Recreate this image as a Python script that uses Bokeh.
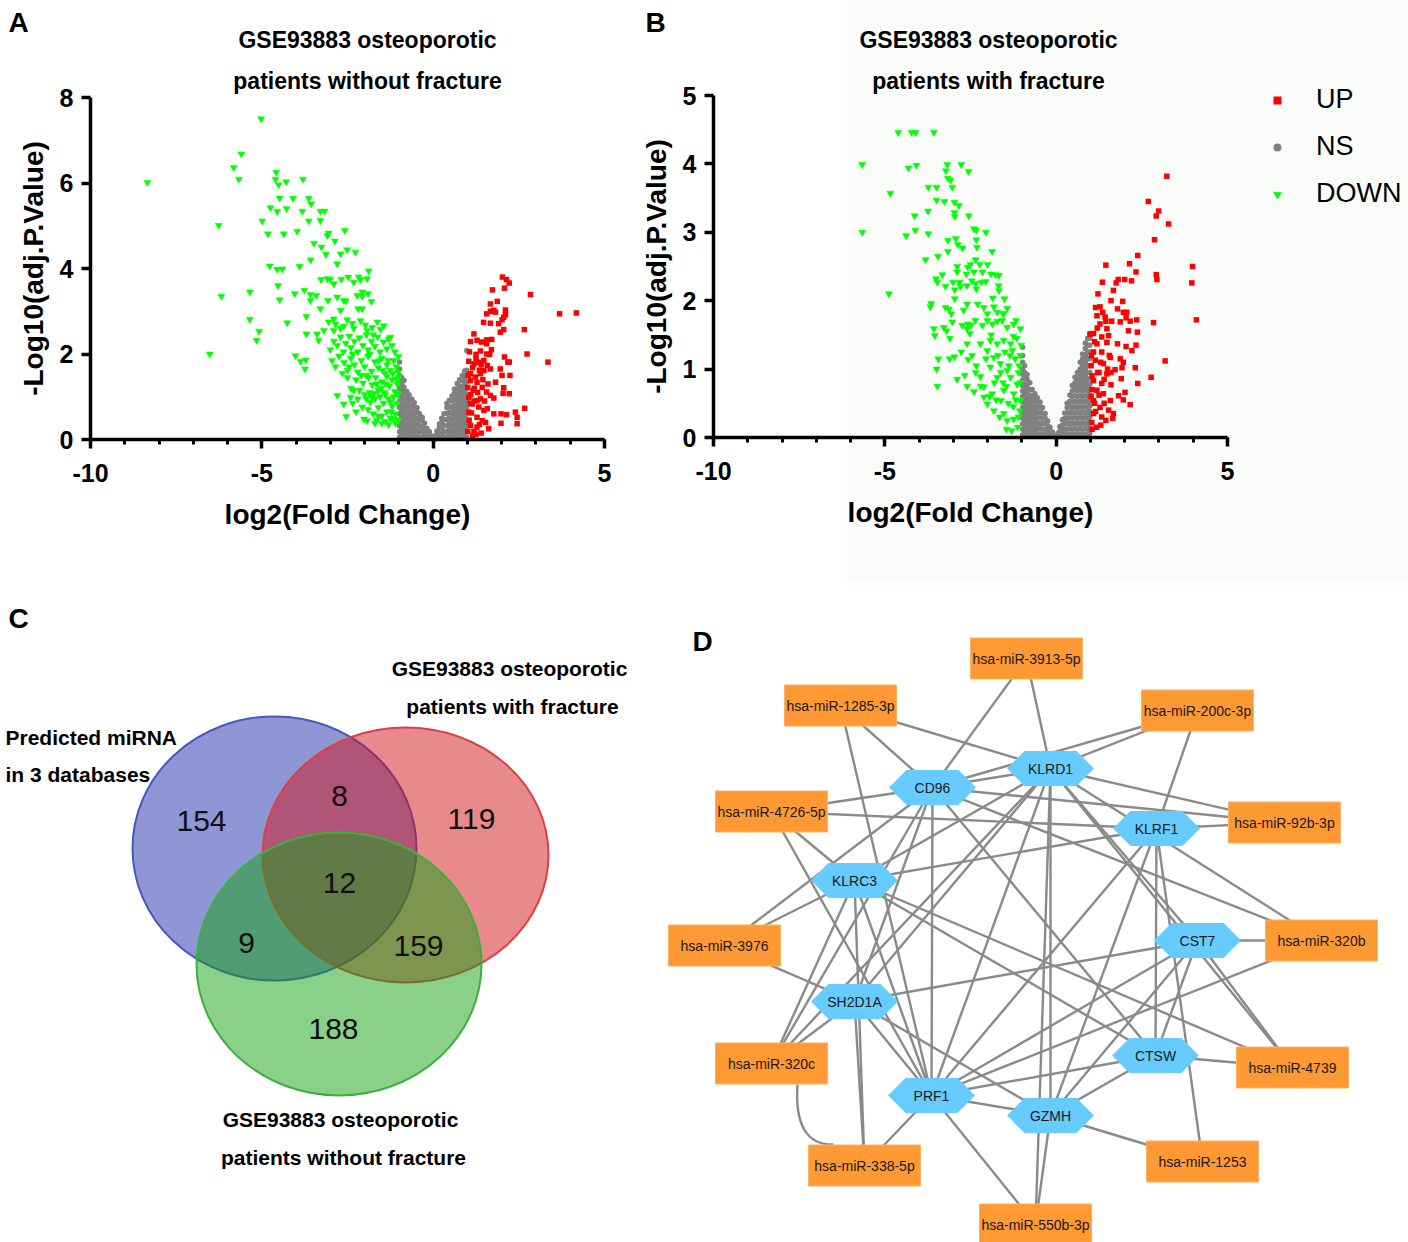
from bokeh.plotting import figure
from bokeh.models import Range1d, FixedTicker, Legend, LegendItem, BoxAnnotation
from bokeh.layouts import column, row
from bokeh.embed import file_html
from bokeh.resources import INLINE
from bokeh.core.properties import value

FONT = "Liberation Sans"

# ---------------- Panel A data (log2FC, -log10 adj.P) ----------------
A_DOWN = [
    (-8.34, 6.01), (-5.02, 7.50), (-5.60, 6.68), (-5.82, 6.36), (-5.67, 6.09), (-4.58, 6.25), (-4.60, 6.09), (-4.51, 5.96),
    (-4.29, 6.03), (-3.80, 6.09), (-4.48, 5.65), (-4.09, 5.64), (-3.63, 5.64), (-3.56, 5.51), (-4.75, 5.42), (-4.55, 5.33),
    (-4.28, 5.40), (-3.82, 5.34), (-3.29, 5.34), (-3.17, 5.34), (-4.99, 5.11), (-3.63, 5.11), (-3.29, 5.12), (-6.26, 5.01),
    (-4.82, 4.81), (-4.36, 4.81), (-3.97, 4.87), (-3.05, 4.83), (-3.09, 4.77), (-2.58, 4.89), (-3.48, 4.59), (-3.26, 4.50),
    (-2.87, 4.64), (-3.13, 4.33), (-2.70, 4.34), (-2.51, 4.44), (-2.27, 4.38), (-3.58, 4.20), (-2.80, 4.11), (-4.77, 4.06),
    (-4.55, 3.98), (-4.40, 3.99), (-3.90, 4.05), (-1.88, 3.94), (-3.27, 3.74), (-3.09, 3.76), (-3.00, 3.75), (-2.90, 3.64),
    (-2.68, 3.75), (-2.48, 3.80), (-2.32, 3.68), (-2.17, 3.80), (-2.12, 3.74), (-1.93, 3.76), (-4.53, 3.60), (-6.18, 3.35),
    (-5.35, 3.45), (-4.48, 3.27), (-4.04, 3.41), (-3.76, 3.49), (-3.58, 3.39), (-3.41, 3.37), (-3.58, 3.25), (-3.29, 3.06),
    (-3.07, 3.25), (-2.80, 3.33), (-2.61, 3.25), (-2.55, 3.24), (-2.70, 3.02), (-2.22, 3.37), (-2.07, 3.45), (-2.07, 3.35),
    (-1.90, 3.41), (-1.80, 3.23), (-2.19, 3.06), (-2.07, 3.06), (-5.35, 2.81), (-4.26, 2.73), (-3.70, 2.88), (-5.08, 2.53),
    (-5.15, 2.32), (-6.52, 2.00), (-4.02, 1.96), (-3.87, 1.83), (-3.72, 1.86), (-3.74, 1.65), (-3.70, 2.47), (-3.39, 2.47),
    (-3.34, 2.32), (-3.19, 2.55), (-3.05, 2.75), (-2.90, 2.82), (-2.85, 2.70), (-2.61, 2.65), (-2.51, 2.80), (-2.36, 2.72),
    (-2.32, 2.60), (-2.12, 2.78), (-1.98, 2.68), (-1.93, 2.55), (-1.78, 2.62), (-1.63, 2.75), (-1.54, 2.58), (-1.44, 2.66),
    (-3.00, 2.10), (-2.90, 2.30), (-2.80, 2.20), (-2.70, 2.40), (-2.62, 2.05), (-2.55, 2.25), (-2.45, 2.42), (-2.40, 2.15),
    (-2.30, 2.30), (-2.20, 2.05), (-2.15, 2.38), (-2.05, 2.20), (-1.95, 2.45), (-1.90, 2.10), (-1.80, 2.30), (-1.70, 2.18),
    (-1.62, 2.40), (-1.55, 2.05), (-1.45, 2.28), (-1.35, 2.12), (-1.30, 2.35), (-1.25, 2.39), (-1.01, 1.94), (-2.95, 1.85),
    (-2.85, 1.70), (-2.75, 1.95), (-2.60, 1.80), (-2.50, 1.62), (-2.40, 1.90), (-2.30, 1.75), (-2.20, 1.58), (-2.10, 1.85),
    (-2.00, 1.70), (-1.90, 1.95), (-1.80, 1.60), (-1.70, 1.82), (-1.60, 1.68), (-1.50, 1.90), (-1.40, 1.55), (-1.35, 1.75),
    (-1.25, 1.62), (-1.15, 1.85), (-1.08, 1.70), (-1.02, 1.58), (-2.40, 1.20), (-2.25, 1.40), (-2.15, 1.15), (-2.05, 1.32),
    (-1.95, 1.50), (-1.85, 1.10), (-1.78, 1.28), (-1.68, 1.45), (-1.60, 1.15), (-1.50, 1.35), (-1.42, 1.10), (-1.35, 1.48),
    (-1.28, 1.25), (-1.20, 1.40), (-1.12, 1.12), (-1.05, 1.30), (-1.00, 1.45), (-2.50, 1.45), (-2.80, 1.03), (-2.61, 0.83),
    (-2.54, 0.54), (-2.41, 0.99), (-2.32, 1.15), (-2.07, 0.76), (-2.02, 0.48), (-1.93, 0.44), (-1.83, 0.87), (-1.75, 0.60),
    (-1.70, 0.95), (-1.65, 0.45), (-1.60, 0.75), (-1.55, 1.00), (-1.50, 0.55), (-1.45, 0.85), (-1.40, 0.42), (-1.35, 0.65),
    (-1.30, 0.95), (-1.25, 0.50), (-1.20, 0.78), (-1.15, 1.00), (-1.10, 0.60), (-1.05, 0.85), (-1.02, 0.45), (-1.10, 0.38),
    (-1.25, 0.88), (-1.40, 1.05), (-1.60, 0.55), (-1.80, 1.00), (-1.90, 0.70), (-1.30, 0.35), (-1.50, 0.38), (-1.70, 0.38),
    (-1.95, 0.95), (-2.20, 0.95), (-2.25, 0.65), (-1.03, 1.05), (-1.08, 1.42), (-1.12, 2.05), (-1.18, 1.55), (-1.22, 0.65),
    (-1.32, 1.85), (-1.38, 1.30), (-1.48, 1.62), (-1.52, 1.20), (-1.58, 1.85), (-1.65, 1.30), (-1.72, 1.08), (-1.75, 2.45),
    (-1.85, 2.00), (-1.88, 1.45), (-2.00, 1.05), (-2.10, 1.50), (-2.35, 2.00), (-2.45, 1.70), (-2.65, 1.55), (-2.70, 2.60),
    (-2.90, 2.55), (-2.35, 0.85), (-1.15, 0.48), (-1.20, 2.20), (-1.05, 1.10),
]
A_UP = [
    (2.02, 3.80), (2.14, 3.74), (2.22, 3.66), (1.73, 3.50), (2.08, 3.54), (2.84, 3.39), (1.67, 3.17), (1.87, 3.23),
    (1.56, 2.94), (1.67, 3.00), (1.77, 3.02), (1.82, 2.98), (2.11, 3.03), (2.11, 2.92), (1.47, 2.74), (1.67, 2.72),
    (1.91, 2.71), (2.01, 2.80), (2.06, 2.86), (1.96, 2.51), (2.06, 2.57), (3.69, 2.94), (4.18, 2.96), (2.66, 2.57),
    (1.19, 2.47), (1.09, 2.29), (1.28, 2.32), (1.41, 2.28), (1.56, 2.33), (1.71, 2.34), (1.56, 2.24), (1.38, 2.07),
    (1.25, 1.99), (1.56, 2.00), (1.65, 1.99), (1.70, 2.10), (2.74, 2.00), (3.35, 1.81), (2.08, 1.93), (2.18, 1.81),
    (2.22, 1.81), (1.04, 1.83), (1.19, 1.77), (1.33, 1.81), (1.48, 1.85), (1.58, 1.73), (1.67, 1.65), (1.48, 1.61),
    (1.96, 1.65), (2.01, 1.50), (2.24, 1.50), (1.09, 1.54), (1.23, 1.46), (1.38, 1.54), (1.09, 1.38), (1.28, 1.34),
    (1.43, 1.22), (1.01, 1.22), (1.17, 1.15), (1.82, 1.34), (2.06, 1.21), (2.22, 1.07), (2.04, 1.08), (1.56, 1.11),
    (1.77, 0.97), (1.67, 1.03), (1.04, 0.99), (1.28, 0.91), (1.38, 0.95), (1.14, 0.83), (1.33, 0.76), (1.48, 0.68),
    (1.04, 0.64), (1.28, 0.52), (1.43, 0.44), (1.09, 0.33), (1.28, 0.29), (1.01, 0.19), (1.19, 0.19), (1.58, 0.72),
    (1.77, 0.60), (1.98, 0.60), (2.14, 0.58), (2.40, 0.64), (2.45, 0.52), (2.67, 0.73), (1.98, 0.38), (2.45, 0.37),
    (1.62, 0.25), (1.53, 0.40), (1.05, 0.45), (1.12, 0.62), (1.20, 0.90), (1.10, 1.05), (1.30, 1.10), (1.02, 1.50),
    (1.15, 1.68), (1.35, 1.62), (1.25, 1.90), (1.06, 2.05), (1.50, 0.90), (1.45, 1.40), (1.60, 1.30), (1.35, 0.35),
    (1.15, 0.08), (1.25, 0.12), (1.40, 0.15), (1.08, 0.85), (1.20, 1.20), (1.40, 1.75),
]
A_NS = [
    (-0.98, [0.05, 0.18, 0.32, 0.46, 0.60, 0.75, 0.90, 1.05, 1.20, 1.35, 1.50, 1.65, 1.81]),
    (-0.92, [0.10, 0.25, 0.40, 0.55, 0.70, 0.85, 1.00, 1.15, 1.30, 1.45]),
    (-0.85, [0.05, 0.18, 0.32, 0.48, 0.62, 0.78, 0.92, 1.08, 1.22, 1.38]),
    (-0.77, [0.10, 0.24, 0.38, 0.52, 0.68, 0.82, 0.98, 1.12]),
    (-0.70, [0.05, 0.18, 0.32, 0.46, 0.60, 0.75, 0.90, 1.04]),
    (-0.62, [0.10, 0.24, 0.38, 0.52, 0.66, 0.80, 0.94]),
    (-0.55, [0.05, 0.18, 0.32, 0.46, 0.60, 0.75, 0.86]),
    (-0.47, [0.08, 0.22, 0.36, 0.50, 0.64, 0.74]),
    (-0.40, [0.05, 0.18, 0.32, 0.46, 0.60]),
    (-0.32, [0.06, 0.18, 0.30, 0.44, 0.52]),
    (-0.25, [0.04, 0.15, 0.27, 0.38]),
    (-0.18, [0.05, 0.15, 0.26]),
    (-0.11, [0.03, 0.12, 0.18]),
    (-0.05, [0.02, 0.08]),
    (0.05, [0.02, 0.08]),
    (0.11, [0.03, 0.12, 0.20]),
    (0.18, [0.05, 0.15, 0.27, 0.36]),
    (0.25, [0.04, 0.15, 0.28, 0.40, 0.50]),
    (0.32, [0.06, 0.18, 0.32, 0.46, 0.60]),
    (0.40, [0.05, 0.18, 0.32, 0.46, 0.60, 0.74, 0.84]),
    (0.47, [0.08, 0.22, 0.36, 0.50, 0.64, 0.78, 0.92]),
    (0.55, [0.05, 0.18, 0.32, 0.46, 0.60, 0.75, 0.90, 1.02]),
    (0.62, [0.10, 0.24, 0.38, 0.52, 0.66, 0.80, 0.94, 1.08, 1.18]),
    (0.70, [0.05, 0.18, 0.32, 0.46, 0.60, 0.75, 0.90, 1.04, 1.18, 1.31]),
    (0.77, [0.10, 0.24, 0.38, 0.52, 0.68, 0.82, 0.98, 1.12, 1.26, 1.40]),
    (0.85, [0.05, 0.18, 0.32, 0.48, 0.62, 0.78, 0.92, 1.08, 1.22, 1.38, 1.50]),
    (0.92, [0.10, 0.25, 0.40, 0.55, 0.70, 0.85, 1.00, 1.15, 1.30, 1.45, 1.60]),
    (0.98, [0.05, 0.18, 0.32, 0.46, 0.60, 0.75, 0.90, 1.05, 1.20, 1.35, 1.50, 1.62, 2.08]),
]

# ---------------- Panel B data ----------------
B_DOWN = [
    (-4.61, 4.46), (-4.22, 4.46), (-4.10, 4.46), (-3.57, 4.46), (-5.66, 3.99), (-4.31, 3.94), (-4.08, 3.98), (-3.18, 3.99),
    (-3.22, 3.90), (-2.77, 3.99), (-2.56, 3.89), (-3.16, 3.79), (-3.08, 3.76), (-4.84, 3.57), (-3.73, 3.66), (-3.49, 3.66),
    (-3.03, 3.66), (-3.49, 3.47), (-3.26, 3.45), (-2.97, 3.44), (-2.84, 3.39), (-2.97, 3.29), (-2.96, 3.23), (-4.13, 3.24),
    (-3.74, 3.31), (-2.55, 3.24), (-5.66, 3.00), (-4.38, 2.95), (-4.11, 3.03), (-3.73, 2.98), (-2.40, 3.05), (-2.33, 3.03),
    (-2.05, 3.00), (-3.16, 2.88), (-2.93, 2.91), (-2.87, 2.82), (-2.73, 2.77), (-2.33, 2.89), (-2.31, 2.78), (-1.87, 2.72),
    (-3.81, 2.60), (-3.45, 2.65), (-3.16, 2.72), (-2.89, 2.50), (-2.58, 2.49), (-2.50, 2.53), (-2.23, 2.53), (-2.00, 2.53),
    (-2.35, 2.60), (-3.32, 2.38), (-2.89, 2.42), (-2.62, 2.39), (-2.40, 2.42), (-2.15, 2.42), (-1.90, 2.39), (-1.77, 2.38),
    (-1.67, 2.37), (-3.51, 2.32), (-3.47, 2.27), (-3.23, 2.21), (-3.01, 2.27), (-2.82, 2.27), (-2.60, 2.22), (-2.46, 2.29),
    (-2.35, 2.25), (-2.18, 2.27), (-2.06, 2.28), (-1.68, 2.22), (-2.33, 2.17), (-2.96, 2.16), (-2.80, 2.21), (-4.88, 2.10),
    (-1.67, 2.15), (-1.85, 2.04), (-1.51, 2.03), (-2.96, 2.03), (-2.60, 1.95), (-2.70, 1.86), (-2.29, 1.95), (-2.11, 1.90),
    (-2.01, 1.81), (-1.82, 1.91), (-1.72, 1.83), (-1.53, 1.81), (-1.43, 1.89), (-3.65, 1.96), (-3.67, 1.91), (-3.23, 1.90),
    (-3.13, 1.88), (-3.06, 1.81), (-3.03, 1.69), (-3.28, 1.61), (-3.57, 1.59), (-3.54, 1.49), (-3.20, 1.56), (-3.10, 1.45),
    (-2.74, 1.64), (-2.57, 1.66), (-2.48, 1.64), (-2.60, 1.59), (-2.52, 1.52), (-2.36, 1.71), (-2.15, 1.64), (-2.01, 1.71),
    (-1.86, 1.66), (-1.72, 1.70), (-1.55, 1.81), (-1.57, 1.71), (-1.43, 1.61), (-1.24, 1.66), (-1.17, 1.71), (-1.04, 1.59),
    (-2.60, 1.37), (-3.44, 1.15), (-3.49, 1.00), (-3.47, 0.75), (-3.11, 1.15), (-2.97, 1.18), (-2.89, 0.85), (-2.67, 0.91),
    (-2.60, 0.75), (-2.77, 1.25), (-2.40, 0.67), (-2.57, 1.14), (-2.33, 1.05), (-2.21, 0.89), (-2.11, 0.74), (-2.01, 0.49),
    (-1.82, 0.39), (-2.11, 0.59), (-1.87, 0.64), (-1.61, 0.54), (-1.53, 0.35), (-1.43, 0.25), (-1.24, 0.27), (-1.06, 0.39),
    (-1.63, 1.08), (-1.43, 0.98), (-1.28, 1.27), (-1.33, 0.88), (-1.14, 0.78), (-1.24, 0.64), (-1.04, 0.54), (-1.53, 0.69),
    (-1.72, 0.88), (-1.92, 1.03), (-1.82, 1.17), (-2.01, 1.27), (-1.72, 1.37), (-1.53, 1.42), (-1.33, 1.37), (-1.92, 1.42),
    (-2.21, 1.37), (-1.10, 0.95), (-1.20, 1.15), (-1.35, 1.20), (-1.50, 1.25), (-1.15, 1.45), (-1.25, 0.45), (-1.10, 0.30),
    (-1.40, 0.50), (-1.65, 0.30), (-1.55, 0.80), (-1.80, 0.80), (-1.95, 0.60), (-2.20, 0.75), (-1.70, 1.20), (-2.05, 1.15),
    (-2.35, 0.95), (-2.45, 1.20), (-1.90, 1.50), (-1.05, 1.20), (-1.12, 0.15), (-1.30, 0.10), (-1.05, 0.80), (-1.18, 0.55),
    (-1.45, 0.75), (-1.62, 0.95), (-1.38, 1.05), (-1.08, 1.05), (-1.25, 1.48), (-1.02, 1.35), (-1.45, 0.12), (-1.75, 0.55),
]
B_UP = [
    (3.23, 3.82), (2.69, 3.45), (2.99, 3.31), (2.92, 3.24), (3.28, 3.12), (2.87, 2.89), (2.38, 2.66), (1.45, 2.52),
    (2.14, 2.54), (2.33, 2.42), (3.98, 2.50), (3.96, 2.26), (4.09, 1.72), (2.92, 2.38), (2.94, 2.31), (1.35, 2.27),
    (1.75, 2.26), (1.81, 2.31), (2.00, 2.31), (2.20, 2.29), (1.67, 2.15), (1.60, 2.00), (1.94, 1.99), (1.79, 1.88),
    (1.28, 1.91), (1.36, 1.83), (1.19, 1.78), (1.43, 1.76), (1.96, 1.83), (2.06, 1.83), (2.04, 1.75), (2.35, 1.72),
    (2.84, 1.68), (3.18, 1.12), (2.77, 0.88), (1.62, 1.70), (1.87, 1.69), (2.16, 1.70), (2.11, 1.56), (2.37, 1.54),
    (1.28, 1.66), (1.48, 1.59), (1.09, 1.52), (1.33, 1.47), (1.53, 1.49), (0.99, 1.51), (1.19, 1.37), (1.48, 1.39),
    (1.79, 1.37), (2.04, 1.33), (2.33, 1.35), (2.21, 1.27), (1.09, 1.25), (1.33, 1.25), (1.58, 1.17), (1.87, 1.15),
    (1.96, 1.10), (1.14, 1.13), (1.38, 1.08), (1.72, 0.99), (1.92, 1.02), (2.31, 1.02), (1.21, 0.95), (1.48, 0.93),
    (1.90, 0.86), (2.38, 0.79), (1.09, 0.83), (1.33, 0.79), (1.60, 0.77), (2.01, 0.66), (1.82, 0.61), (1.96, 0.55),
    (2.16, 0.48), (1.19, 0.69), (1.38, 0.64), (1.09, 0.54), (1.58, 0.54), (1.28, 0.44), (1.53, 0.40), (1.67, 0.35),
    (1.09, 0.35), (1.33, 0.30), (1.04, 0.22), (1.65, 0.28), (1.02, 0.60), (1.05, 0.90), (1.03, 1.20), (1.15, 1.90),
    (1.22, 2.10), (1.12, 0.50), (1.25, 0.62), (1.40, 0.85), (1.50, 1.00), (1.20, 1.60), (1.45, 1.70), (1.55, 1.20),
    (1.30, 1.10), (1.60, 0.95), (1.25, 0.95), (1.05, 0.70), (1.40, 0.50), (1.15, 0.38), (1.45, 0.25), (1.30, 0.18),
    (1.02, 1.05), (1.12, 1.40), (1.18, 0.15), (1.05, 0.12),
]
B_NS = [
    (-0.98, [0.04, 0.12, 0.20, 0.28, 0.36, 0.44, 0.52, 0.60, 0.68, 0.76, 0.84, 0.92, 1.00, 1.10, 1.20, 1.32]),
    (-0.92, [0.06, 0.14, 0.22, 0.30, 0.38, 0.46, 0.54, 0.62, 0.70, 0.78, 0.86, 0.95, 1.05]),
    (-0.85, [0.04, 0.12, 0.20, 0.28, 0.36, 0.44, 0.52, 0.60, 0.68, 0.76, 0.85, 0.92]),
    (-0.77, [0.06, 0.14, 0.22, 0.30, 0.38, 0.46, 0.54, 0.62, 0.70, 0.80]),
    (-0.70, [0.04, 0.12, 0.20, 0.28, 0.36, 0.44, 0.52, 0.60, 0.70]),
    (-0.62, [0.06, 0.14, 0.22, 0.30, 0.38, 0.46, 0.55, 0.64]),
    (-0.55, [0.04, 0.12, 0.20, 0.28, 0.36, 0.44, 0.52, 0.58]),
    (-0.47, [0.05, 0.13, 0.21, 0.29, 0.37, 0.45, 0.52]),
    (-0.40, [0.04, 0.12, 0.20, 0.28, 0.36, 0.44]),
    (-0.32, [0.04, 0.12, 0.20, 0.28, 0.35]),
    (-0.25, [0.03, 0.10, 0.17, 0.24]),
    (-0.18, [0.03, 0.09, 0.15]),
    (-0.11, [0.02, 0.08]),
    (-0.05, [0.02]),
    (0.05, [0.02, 0.06]),
    (0.11, [0.03, 0.10, 0.16]),
    (0.18, [0.03, 0.10, 0.18, 0.26]),
    (0.25, [0.04, 0.12, 0.20, 0.28, 0.36]),
    (0.32, [0.04, 0.12, 0.20, 0.28, 0.36, 0.44, 0.50]),
    (0.40, [0.05, 0.13, 0.21, 0.29, 0.37, 0.45, 0.53, 0.62]),
    (0.47, [0.04, 0.12, 0.20, 0.28, 0.36, 0.44, 0.52, 0.60, 0.68, 0.76]),
    (0.55, [0.05, 0.13, 0.21, 0.29, 0.37, 0.45, 0.53, 0.61, 0.70, 0.80, 0.88]),
    (0.62, [0.04, 0.12, 0.20, 0.28, 0.36, 0.44, 0.52, 0.60, 0.68, 0.76, 0.85, 0.95]),
    (0.70, [0.05, 0.13, 0.21, 0.29, 0.37, 0.45, 0.53, 0.61, 0.70, 0.80, 0.90, 1.00, 1.10]),
    (0.77, [0.04, 0.12, 0.20, 0.28, 0.36, 0.44, 0.52, 0.60, 0.68, 0.76, 0.85, 0.95, 1.05, 1.15, 1.22]),
    (0.85, [0.05, 0.13, 0.21, 0.29, 0.37, 0.45, 0.53, 0.61, 0.70, 0.80, 0.90, 1.00, 1.10, 1.20, 1.30, 1.38]),
    (0.92, [0.04, 0.12, 0.20, 0.28, 0.36, 0.44, 0.52, 0.60, 0.68, 0.76, 0.85, 0.95, 1.05, 1.15, 1.25, 1.35, 1.45]),
    (0.98, [0.06, 0.14, 0.22, 0.30, 0.38, 0.46, 0.54, 0.62, 0.70, 0.78, 0.86, 0.95, 1.05, 1.15, 1.25, 1.35, 1.45, 1.52]),
]
A_Y_TICKS = [0, 2, 4, 6, 8]
B_Y_TICKS = [0, 1, 2, 3, 4, 5]
X_TICKS = [-10, -5, 0, 5]
LEGEND_LABELS = ["UP", "NS", "DOWN"]

# ---------------- Panel C data (Venn) ----------------
VENN_TITLES = [["Predicted miRNA", "in 3 databases"],
               ["GSE93883 osteoporotic", "patients with fracture"],
               ["GSE93883 osteoporotic", "patients without fracture"]]
VENN_COUNTS = ["154", "8", "119", "12", "9", "159", "188"]

# ---------------- Panel D data (network) ----------------
MIRNAS = ["hsa-miR-3913-5p", "hsa-miR-1285-3p", "hsa-miR-200c-3p", "hsa-miR-4726-5p", "hsa-miR-92b-3p",
          "hsa-miR-3976", "hsa-miR-320b", "hsa-miR-320c", "hsa-miR-4739", "hsa-miR-338-5p",
          "hsa-miR-1253", "hsa-miR-550b-3p"]
MIRNA_LX = [1026, 840, 1197, 771, 1284, 724, 1321, 771, 1292, 864, 1202, 1035]
MIRNA_LY = [658, 705, 710, 811, 822, 945, 940, 1063, 1067, 1165, 1161, 1224]
GENES = ["CD96", "KLRD1", "KLRF1", "KLRC3", "CST7", "SH2D1A", "CTSW", "PRF1", "GZMH"]
GENE_LX = [932, 1050, 1156, 854, 1197, 854, 1155, 931, 1050]
GENE_LY = [787, 768, 828, 880, 940, 1001, 1055, 1095, 1115]
EDGES = [
    ("hsa-miR-3913-5p", "CD96"), ("hsa-miR-3913-5p", "KLRD1"),
    ("hsa-miR-1285-3p", "CD96"), ("hsa-miR-1285-3p", "KLRD1"), ("hsa-miR-1285-3p", "PRF1"),
    ("hsa-miR-200c-3p", "KLRD1"), ("hsa-miR-200c-3p", "CD96"), ("hsa-miR-200c-3p", "KLRF1"),
    ("hsa-miR-4726-5p", "CD96"), ("hsa-miR-4726-5p", "KLRF1"), ("hsa-miR-4726-5p", "PRF1"), ("hsa-miR-4726-5p", "KLRC3"),
    ("hsa-miR-92b-3p", "KLRD1"), ("hsa-miR-92b-3p", "CD96"), ("hsa-miR-92b-3p", "KLRF1"),
    ("hsa-miR-3976", "KLRC3"), ("hsa-miR-3976", "CD96"), ("hsa-miR-3976", "SH2D1A"),
    ("hsa-miR-320b", "CST7"), ("hsa-miR-320b", "CD96"), ("hsa-miR-320b", "KLRD1"), ("hsa-miR-320b", "PRF1"),
    ("hsa-miR-320c", "SH2D1A"), ("hsa-miR-320c", "KLRD1"), ("hsa-miR-320c", "CD96"), ("hsa-miR-320c", "KLRC3"),
    ("hsa-miR-4739", "CST7"), ("hsa-miR-4739", "CTSW"), ("hsa-miR-4739", "KLRD1"), ("hsa-miR-4739", "KLRC3"),
    ("hsa-miR-338-5p", "SH2D1A"), ("hsa-miR-338-5p", "KLRC3"), ("hsa-miR-338-5p", "PRF1"),
    ("hsa-miR-1253", "GZMH"), ("hsa-miR-1253", "KLRF1"),
    ("hsa-miR-550b-3p", "GZMH"), ("hsa-miR-550b-3p", "PRF1"), ("hsa-miR-550b-3p", "KLRD1"),
    ("CD96", "KLRD1"), ("CD96", "PRF1"), ("CD96", "CTSW"), ("CD96", "SH2D1A"),
    ("KLRD1", "PRF1"), ("KLRD1", "CST7"), ("KLRD1", "SH2D1A"), ("KLRD1", "KLRC3"), ("KLRD1", "GZMH"),
    ("KLRF1", "KLRC3"), ("KLRF1", "PRF1"), ("KLRF1", "GZMH"), ("KLRF1", "CTSW"),
    ("CST7", "SH2D1A"), ("CST7", "PRF1"), ("CST7", "CTSW"), ("CST7", "GZMH"),
    ("CTSW", "PRF1"), ("CTSW", "GZMH"), ("CTSW", "KLRC3"),
    ("PRF1", "GZMH"), ("PRF1", "SH2D1A"), ("PRF1", "KLRC3"), ("SH2D1A", "GZMH"),
]
CURVED_EDGES = [("hsa-miR-320c", "hsa-miR-338-5p")]


def pairs_xy(pairs):
    return [p[0] for p in pairs], [p[1] for p in pairs]


def cols_xy(cols):
    xs, ys = [], []
    for x, yl in cols:
        for y in yl:
            xs.append(x)
            ys.append(y)
    return xs, ys


TOP_H = 582


def volcano(canvas_left, width, px_xlo, px_xhi, px_y0, px_ytop, y_max, y_ticks, down, up, ns,
            titles, title_cx, letter, letter_px, legend_px=None, tint=None):
    sx = (px_xhi - px_xlo) / 15.0
    sy = (px_y0 - px_ytop) / float(y_max)
    x_lo = -10 - (px_xlo - canvas_left) / sx
    x_hi = 5 + (canvas_left + width - px_xhi) / sx
    y_lo = -(TOP_H - px_y0) / sy
    y_hi = y_max + px_ytop / sy

    def dx(px):
        return x_lo + (px - canvas_left) / sx

    def dy(py):
        return y_hi - py / sy

    p = figure(width=width, height=TOP_H, x_range=Range1d(x_lo, x_hi), y_range=Range1d(y_lo, y_hi),
               output_backend="svg", toolbar_location=None, title=None,
               min_border=0, min_border_left=0, min_border_right=0, min_border_top=0, min_border_bottom=0)
    p.grid.visible = False
    p.outline_line_color = None
    p.background_fill_color = "white"
    p.border_fill_color = "white"

    if tint is not None:
        p.add_layout(BoxAnnotation(left=dx(tint[0]), right=dx(tint[2]), top=dy(tint[1]), bottom=dy(tint[3]),
                                   fill_color="#fafcfa", fill_alpha=1.0, line_alpha=0, level="underlay"))

    nx, ny = cols_xy(ns)
    r_ns = p.scatter(nx, ny, marker="circle", size=5.5, fill_color="#808080", line_color=None)
    gx, gy = pairs_xy(down)
    r_dn = p.scatter(gx, gy, marker="inverted_triangle", size=7, fill_color="#00ff00",
                     line_color="#00ff00", line_width=0.5)
    ux, uy = pairs_xy(up)
    r_up = p.scatter(ux, uy, marker="square", size=5.5, fill_color="#ff0000", line_color=None)

    p.xaxis.fixed_location = 0
    p.yaxis.fixed_location = -10
    p.xaxis.bounds = (-10, 5)
    p.yaxis.bounds = (0, y_max)
    p.xaxis.ticker = FixedTicker(ticks=X_TICKS, minor_ticks=list(range(-10, 6)))
    p.yaxis.ticker = FixedTicker(ticks=y_ticks, minor_ticks=[])
    p.xaxis.major_label_overrides = {t: str(t) for t in X_TICKS}
    p.xaxis.axis_label = "log2(Fold Change)"
    p.yaxis.axis_label = "-Log10(adj.P.Value)"
    for ax in (p.xaxis, p.yaxis):
        ax.axis_line_width = 3.5
        ax.axis_line_color = "black"
        ax.major_tick_line_width = 3.5
        ax.major_tick_out = 9
        ax.major_tick_in = 0
        ax.minor_tick_line_width = 3
        ax.minor_tick_out = 5
        ax.minor_tick_in = 0
        ax.major_label_text_font = FONT
        ax.major_label_text_font_style = "bold"
        ax.major_label_text_font_size = "25px"
        ax.major_label_text_color = "black"
        ax.axis_label_text_font = FONT
        ax.axis_label_text_font_style = "bold"
        ax.axis_label_text_font_size = "28px"
        ax.axis_label_text_color = "black"
    p.xaxis.major_label_standoff = 15
    p.xaxis.axis_label_standoff = 14
    p.yaxis.major_label_standoff = 8
    p.yaxis.axis_label_standoff = 8

    p.text(x=[dx(title_cx)] * 2, y=[dy(39), dy(80)], text=titles, text_font=value(FONT),
           text_font_size="23px", text_font_style="bold", text_align="center", text_baseline="middle",
           text_color="black")
    p.text(x=[dx(letter_px[0])], y=[dy(letter_px[1])], text=[letter], text_font=value(FONT),
           text_font_size="28px", text_font_style="bold", text_align="center", text_baseline="middle",
           text_color="black")

    if legend_px is not None:
        lx, ltop = legend_px
        item_h, spacing = 30, 16
        leg_h = 3 * item_h + 2 * spacing
        legend = Legend(items=[LegendItem(label=LEGEND_LABELS[0], renderers=[r_up]),
                               LegendItem(label=LEGEND_LABELS[1], renderers=[r_ns]),
                               LegendItem(label=LEGEND_LABELS[2], renderers=[r_dn])],
                        location=(lx - canvas_left, TOP_H - (ltop + leg_h)),
                        padding=0, margin=0, spacing=spacing, glyph_width=20, glyph_height=item_h,
                        label_height=item_h, label_standoff=29,
                        label_text_font=FONT, label_text_font_size="27px", label_text_color="black",
                        border_line_alpha=0, background_fill_alpha=0)
        p.add_layout(legend)
    return p


pA = volcano(0, 630, 90, 604, 439, 97, 8, A_Y_TICKS, A_DOWN, A_UP, A_NS,
             ["GSE93883 osteoporotic", "patients without fracture"], 367, "A", (18, 22))
pB = volcano(630, 778, 713, 1227, 437, 95, 5, B_Y_TICKS, B_DOWN, B_UP, B_NS,
             ["GSE93883 osteoporotic", "patients with fracture"], 988, "B", (655, 22),
             legend_px=(1267, 87), tint=(847, 0, 1408, 582))

# ---------------- bottom row: Venn + network (layout coordinates) ----------------
pc = figure(width=1408, height=660, x_range=Range1d(0, 1408), y_range=Range1d(1242, 582),
            output_backend="svg", toolbar_location=None, x_axis_location=None, y_axis_location=None,
            title=None, min_border=0, min_border_left=0, min_border_right=0, min_border_top=0,
            min_border_bottom=0)
pc.grid.visible = False
pc.outline_line_color = None
pc.background_fill_color = "white"
pc.border_fill_color = "white"

# Venn
venn_cx = [274, 405, 338.5]
venn_cy = [848, 854.5, 963.5]
venn_w = [284, 286, 285]
venn_h = [264, 255, 263]
venn_fill = ["#1d2dad", "#d11319", "#13a113"]
venn_line = ["#4b55c0", "#dc4045", "#3fae3f"]
for i in range(3):
    pc.ellipse(x=[venn_cx[i]], y=[venn_cy[i]], width=[venn_w[i]], height=[venn_h[i]],
               fill_color=venn_fill[i], fill_alpha=0.5, line_color=venn_line[i], line_width=2)
pc.text(x=[201, 339, 471, 339, 246, 418, 333], y=[820, 795, 818, 882, 942, 945, 1028], text=VENN_COUNTS,
        text_font=value(FONT), text_font_size="30px", text_align="center", text_baseline="middle",
        text_color="#111111")
pc.text(x=[5, 5], y=[737, 774], text=VENN_TITLES[0], text_font=value(FONT), text_font_size="21px",
        text_font_style="bold", text_align="left", text_baseline="middle", text_color="black")
pc.text(x=[509, 512], y=[668, 706], text=VENN_TITLES[1], text_font=value(FONT), text_font_size="21px",
        text_font_style="bold", text_align="center", text_baseline="middle", text_color="black")
pc.text(x=[340, 343], y=[1119, 1157], text=VENN_TITLES[2], text_font=value(FONT), text_font_size="21px",
        text_font_style="bold", text_align="center", text_baseline="middle", text_color="black")
pc.text(x=[18, 702], y=[618, 641], text=["C", "D"], text_font=value(FONT), text_font_size="28px",
        text_font_style="bold", text_align="center", text_baseline="middle", text_color="black")

# Network
pos = {}
for n, x, y in zip(MIRNAS, MIRNA_LX, MIRNA_LY):
    pos[n] = (x, y)
for n, x, y in zip(GENES, GENE_LX, GENE_LY):
    pos[n] = (x, y)
pc.segment(x0=[pos[a][0] for a, b in EDGES], y0=[pos[a][1] for a, b in EDGES],
           x1=[pos[b][0] for a, b in EDGES], y1=[pos[b][1] for a, b in EDGES],
           line_color="#8a8a8a", line_width=2.4)
for a, b in CURVED_EDGES:
    (ax_, ay_), (bx_, by_) = pos[a], pos[b]
    pc.quadratic(x0=[ax_ + 26], y0=[ay_ + 21], x1=[bx_ - 31], y1=[by_ - 21],
                 cx=[ax_ + 22], cy=[by_ - 20], line_color="#8a8a8a", line_width=2.4)

pc.rect(x=MIRNA_LX, y=MIRNA_LY, width=112, height=41, fill_color="#ff9933", line_color="#ffb060", line_width=1)
HEX_DX = [-43.5, -26, 26, 43.5, 26, -26]
HEX_DY = [0, -17.5, -17.5, 0, 17.5, 17.5]
pc.patches(xs=[[x + d for d in HEX_DX] for x in GENE_LX], ys=[[y + d for d in HEX_DY] for y in GENE_LY],
           fill_color="#66ccff", line_color=None)
pc.text(x=MIRNA_LX, y=MIRNA_LY, text=MIRNAS, text_font=value(FONT), text_font_size="14px",
        text_align="center", text_baseline="middle", text_color="#1a1a1a")
pc.text(x=GENE_LX, y=GENE_LY, text=GENES, text_font=value(FONT), text_font_size="14px",
        text_align="center", text_baseline="middle", text_color="#1a1a1a")

layout = column(row(pA, pB), pc)
open("out.html", "w").write(file_html(layout, INLINE))
